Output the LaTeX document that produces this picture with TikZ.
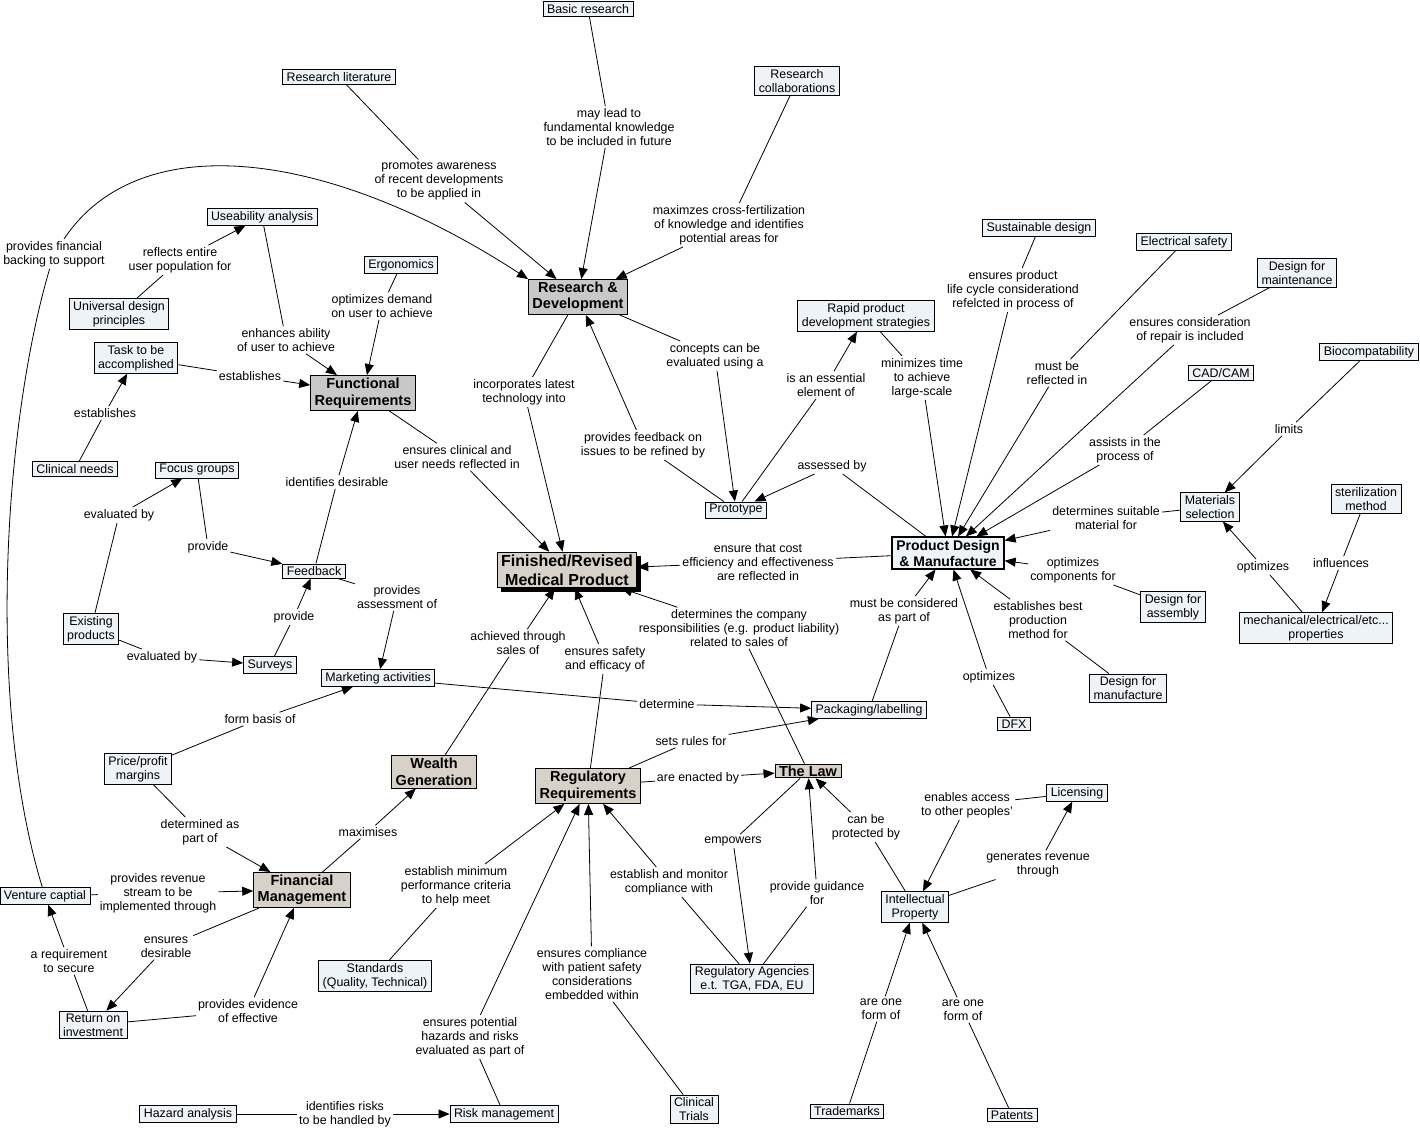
\documentclass[tikz,border=0pt]{standalone}
\usepackage{fontspec}
\setmainfont{Liberation Sans}
\usetikzlibrary{arrows.meta,shadows}
\definecolor{cfill}{RGB}{237,243,246}
\definecolor{gfill}{RGB}{200,200,200}
\definecolor{bfill}{RGB}{215,209,200}
\newcommand\lk[3]{\draw[ln] (#1) -- (#2); \draw[ar] (#2) -- (#3);}
\tikzset{
  cn/.style={draw=black, fill=cfill, line width=0.9pt, align=center,
    font=\fontsize{12.4}{14}\selectfont, inner xsep=4pt, inner ysep=2.5pt},
  gn/.style={cn, fill=gfill, font=\fontsize{14.5}{16.5}\selectfont\bfseries},
  bn/.style={gn, fill=bfill},
  pdmn/.style={gn, fill=cfill, line width=1.8pt, font=\fontsize{14}{16}\selectfont\bfseries},
  finn/.style={bn, font=\fontsize{16}{19}\selectfont\bfseries,
    drop shadow={shadow xshift=4pt, shadow yshift=-4pt, opacity=1, fill=black}},
  lb/.style={align=center, font=\fontsize{12.4}{14}\selectfont, inner sep=2pt},
  ln/.style={line width=0.8pt},
  ar/.style={ln, -{Triangle[length=11pt,width=9pt]}}
}
\begin{document}
\begin{tikzpicture}[x=1pt,y=-1pt]
\useasboundingbox[fill=white] (0,0) rectangle (1420,1131);
% concept nodes
\node[cn] (basic) at (588,9) {Basic research};
\node[cn] (rlit) at (339,77) {Research literature};
\node[cn] (rcol) at (797,81) {Research\\collaborations};
\node[cn] (use) at (262,217) {Useability analysis};
\node[cn] (ergo) at (401,265) {Ergonomics};
\node[cn] (univ) at (119,314) {Universal design\\principles};
\node[cn] (task) at (136,358) {Task to be\\accomplished};
\node[gn] (rd) at (578,297) {Research \&\\Development};
\node[gn] (fr) at (363,393) {Functional\\Requirements};
\node[cn] (clin) at (75,469) {Clinical needs};
\node[cn] (focus) at (197,470) {Focus groups};
\node[cn] (feed) at (314,571) {Feedback};
\node[cn] (exist) at (91,629) {Existing\\products};
\node[cn] (surv) at (270,665) {Surveys};
\node[cn] (mkt) at (378,678) {Marketing activities};
\node[finn] (fin) at (567,570) {Finished/Revised\\Medical Product};
\node[cn] (proto) at (736,510) {Prototype};
\node[cn] (rapid) at (866,316) {Rapid product\\development strategies};
\node[cn] (sust) at (1039,228) {Sustainable design};
\node[cn] (elec) at (1184,242) {Electrical safety};
\node[cn] (dmain) at (1297,273) {Design for\\maintenance};
\node[cn] (bio) at (1369,352) {Biocompatability};
\node[cn] (cad) at (1221,373) {CAD/CAM};
\node[cn] (mat) at (1210,507) {Materials\\selection};
\node[cn] (ster) at (1366,499) {sterilization\\method};
\node[pdmn] (pdm) at (948,553) {Product Design\\\& Manufacture};
\node[cn] (dasm) at (1173,607) {Design for\\assembly};
\node[cn] (mech) at (1316,628) {mechanical/electrical/etc...\\properties};
\node[cn] (dman) at (1128,688) {Design for\\manufacture};
\node[cn] (dfx) at (1014,724) {DFX};
\node[cn] (pack) at (869,710) {Packaging/labelling};
\node[cn] (price) at (138,769) {Price/profit\\margins};
\node[bn] (wealth) at (434,772) {Wealth\\Generation};
\node[bn] (reg) at (588,786) {Regulatory\\Requirements};
\node[bn, inner ysep=1.5pt] (law) at (808,771) {The Law};
\node[cn] (lic) at (1077,793) {Licensing};
\node[bn] (finm) at (302,890) {Financial\\Management};
\node[cn] (vc) at (45,896) {Venture captial};
\node[cn] (ip) at (915,907) {Intellectual\\Property};
\node[cn] (roi) at (93,1025) {Return on\\investment};
\node[cn] (std) at (375,976) {Standards\\(Quality, Technical)};
\node[cn] (ra) at (752,979) {Regulatory Agencies\\e.t. TGA, FDA, EU};
\node[cn] (haz) at (188,1114) {Hazard analysis};
\node[cn] (risk) at (504,1114) {Risk management};
\node[cn] (ct) at (694,1109) {Clinical\\Trials};
\node[cn] (tm) at (847,1111) {Trademarks};
\node[cn] (pat) at (1012,1115) {Patents};
% link labels
\node[lb] (L1) at (609,127) {may lead to\\fundamental knowledge\\to be included in future};
\node[lb] (L2) at (439,181) {promotes awareness\\of recent developments\\to be applied in};
\node[lb] (L3) at (729,225) {maximzes cross-fertilization\\of knowledge and identifies\\potential areas for};
\node[lb] (L4) at (54,254) {provides financial\\backing to support};
\node[lb] (L5) at (180,260) {reflects entire\\user population for};
\node[lb] (L6) at (286,340) {enhances ability\\of user to achieve};
\node[lb] (L7) at (382,306) {optimizes demand\\on user to achieve};
\node[lb] (L8) at (250,376) {establishes};
\node[lb] (L9) at (105,413) {establishes};
\node[lb] (L10) at (524,392) {incorporates latest\\technology into};
\node[lb] (L11) at (715,356) {concepts can be\\evaluated using a};
\node[lb] (L12) at (643,445) {provides feedback on\\issues to be refined by};
\node[lb] (L13) at (826,385) {is an essential\\element of};
\node[lb] (L14) at (922,378) {minimizes time\\to achieve\\large-scale};
\node[lb] (L15) at (1013,290) {ensures product\\life cycle considerationd\\refelcted in process of};
\node[lb] (L16) at (1057,373) {must be\\reflected in};
\node[lb] (L17) at (1190,330) {ensures consideration\\of repair is included};
\node[lb] (L18) at (1125,450) {assists in the\\process of};
\node[lb] (L19) at (1289,429) {limits};
\node[lb] (L20) at (832,466) {assessed by};
\node[lb] (L21) at (337,482) {identifies desirable};
\node[lb] (L22) at (457,457) {ensures clinical and\\user needs reflected in};
\node[lb] (L23) at (1106,518) {determines suitable\\material for};
\node[lb] (L24) at (758,562) {ensure that cost\\efficiency and effectiveness\\are reflected in};
\node[lb] (L25) at (1073,570) {optimizes\\components for};
\node[lb] (L26) at (1263,567) {optimizes};
\node[lb] (L27) at (1341,563) {influences};
\node[lb] (L28) at (119,515) {evaluated by};
\node[lb] (L29) at (208,547) {provide};
\node[lb] (L30) at (397,597) {provides\\assessment of};
\node[lb] (L31) at (294,617) {provide};
\node[lb] (L32) at (162,657) {evaluated by};
\node[lb] (L33) at (518,643) {achieved through\\sales of};
\node[lb] (L34) at (605,659) {ensures safety\\and efficacy of};
\node[lb] (L35) at (739,628) {determines the company\\responsibilities (e.g. product liability)\\related to sales of};
\node[lb] (L36) at (904,611) {must be considered\\as part of};
\node[lb] (L37) at (1038,620) {establishes best\\production\\method for};
\node[lb] (L38) at (989,677) {optimizes};
\node[lb] (L39) at (260,719) {form basis of};
\node[lb] (L40) at (667,704) {determine};
\node[lb] (L41) at (691,741) {sets rules for};
\node[lb] (L42) at (698,778) {are enacted by};
\node[lb] (L43) at (200,832) {determined as\\part of};
\node[lb] (L44) at (368,832) {maximises};
\node[lb] (L45) at (158,893) {provides revenue\\stream to be\\implemented through};
\node[lb] (L46) at (456,886) {establish minimum\\performance criteria\\to help meet};
\node[lb] (L47) at (669,882) {establish and monitor\\compliance with};
\node[lb] (L48) at (733,841) {empowers};
\node[lb] (L49) at (866,827) {can be\\protected by};
\node[lb] (L50) at (967,805) {enables access\\to other peoples'};
\node[lb] (L51) at (1038,865) {generates revenue\\through};
\node[lb] (L52) at (817,893) {provide guidance\\for};
\node[lb] (L53) at (166,947) {ensures\\desirable};
\node[lb] (L54) at (69,961) {a requirement\\to secure};
\node[lb] (L55) at (592,974) {ensures compliance\\with patient safety\\considerations\\embedded within};
\node[lb] (L56) at (248,1011) {provides evidence\\of effective};
\node[lb] (L57) at (881,1009) {are one\\form of};
\node[lb] (L58) at (963,1010) {are one\\form of};
\node[lb] (L59) at (470,1037) {ensures potential\\hazards and risks\\evaluated as part of};
\node[lb] (L60) at (345,1114) {identifies risks\\to be handled by};
% connectors
\lk{basic}{L1}{rd}
\lk{rlit}{L2}{rd}
\lk{rcol}{L3}{rd}
\draw[ln] (vc) .. controls (-15,700) and (5,420) .. (L4);
\draw[ar] (L4) .. controls (140,125) and (330,150) .. (rd.north west);
\lk{univ}{L5}{use}
\lk{use}{L6}{fr}
\lk{ergo}{L7}{fr}
\lk{task}{L8}{fr}
\lk{clin}{L9}{task}
\lk{rd}{L10}{fin}
\lk{rd}{L11}{proto}
\lk{proto}{L12}{rd}
\lk{proto}{L13}{rapid}
\lk{rapid}{L14}{pdm}
\lk{sust}{L15}{pdm}
\lk{elec}{L16}{pdm}
\lk{dmain}{L17}{pdm}
\lk{cad}{L18}{pdm}
\lk{bio}{L19}{mat}
\lk{pdm}{L20}{proto}
\lk{feed}{L21}{fr}
\lk{fr}{L22}{fin}
\lk{mat}{L23}{pdm}
\lk{pdm}{L24}{fin}
\lk{dasm}{L25}{pdm}
\lk{mech}{L26}{mat}
\lk{ster}{L27}{mech}
\lk{exist}{L28}{focus}
\lk{focus}{L29}{feed}
\lk{feed}{L30}{mkt}
\lk{surv}{L31}{feed}
\lk{exist}{L32}{surv}
\lk{wealth}{L33}{fin}
\lk{reg}{L34}{fin}
\lk{law}{L35}{fin}
\lk{pack}{L36}{pdm}
\lk{dman}{L37}{pdm}
\lk{dfx}{L38}{pdm}
\lk{price}{L39}{mkt}
\lk{mkt}{L40}{pack}
\lk{reg}{L41}{pack}
\lk{reg}{L42}{law}
\lk{price}{L43}{finm}
\lk{finm}{L44}{wealth}
\lk{vc}{L45}{finm}
\lk{std}{L46}{reg}
\lk{ra}{L47}{reg}
\lk{law}{L48}{ra}
\lk{ip}{L49}{law}
\lk{lic}{L50}{ip}
\lk{ip}{L51}{lic}
\lk{ra}{L52}{law}
\lk{finm}{L53}{roi}
\lk{roi}{L54}{vc}
\lk{ct}{L55}{reg}
\lk{roi}{L56}{finm}
\lk{tm}{L57}{ip}
\lk{pat}{L58}{ip}
\lk{risk}{L59}{reg}
\lk{haz}{L60}{risk}
\end{tikzpicture}
\end{document}
